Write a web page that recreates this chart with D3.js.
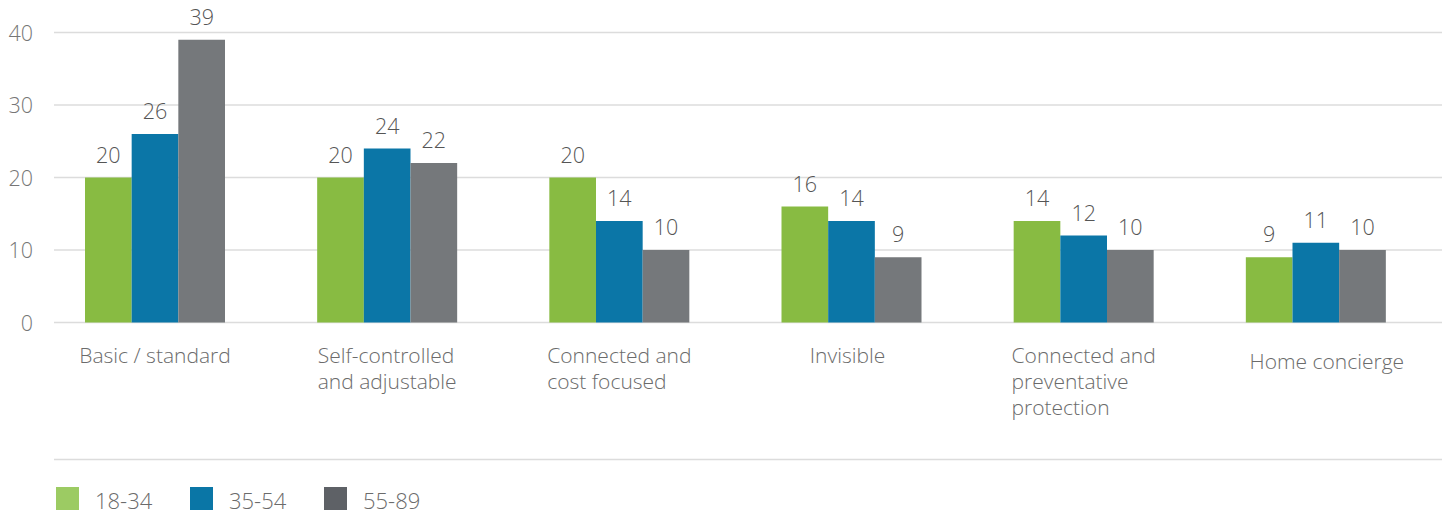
<!DOCTYPE html>
<html><head><meta charset="utf-8">
<script src="https://cdn.jsdelivr.net/npm/d3@7/dist/d3.min.js"></script>
<style>
html,body{margin:0;padding:0;background:#fff;}
svg{display:block;font-family:"Open Sans",sans-serif;}
</style></head>
<body>
<svg id="chart" width="1442" height="516"></svg>
<script>
const categories = [
  ["Basic / standard"],
  ["Self-controlled", "and adjustable"],
  ["Connected and", "cost focused"],
  ["Invisible"],
  ["Connected and", "preventative", "protection"],
  ["Home concierge"]
];
const seriesNames = ["18-34", "35-54", "55-89"];
const values18_34 = [20, 20, 20, 16, 14, 9];
const values35_54 = [26, 24, 14, 14, 12, 11];
const values55_89 = [39, 22, 10, 9, 10, 10];
const yTicks = [0, 10, 20, 30, 40];
const barColors = ["#88bb42", "#0b76a7", "#75787b"];
const legendColors = ["#9ccb63", "#0a76a6", "#5e6166"];

const series = [values18_34, values35_54, values55_89];
const svg = d3.select("#chart");

const x0 = d3.scaleBand().domain(d3.range(categories.length)).range([54, 1447]).padding(0);
const x1 = d3.scaleBand().domain(d3.range(series.length)).range([31, 171]).padding(0);
const y = d3.scaleLinear().domain([0, 40]).range([322.5, 32.5]);

// grid
const grid = svg.append("g");
grid.selectAll("line").data(yTicks).join("line")
  .attr("x1", 54).attr("x2", 1442)
  .attr("y1", d => y(d)).attr("y2", d => y(d))
  .attr("stroke", "#dcdcdc").attr("stroke-width", 1.5);

// y axis labels
const yAxis = d3.axisLeft(y).tickValues(yTicks).tickSize(0).tickPadding(0);
const ya = svg.append("g").attr("transform", "translate(33,0)").call(yAxis);
ya.select(".domain").remove();
ya.selectAll("text").attr("font-size", 21.5).attr("font-weight", 300)
  .attr("fill", "#767676").attr("font-family", "Open Sans").attr("dy", "0.36em");

// bars
const groups = svg.append("g").selectAll("g").data(categories).join("g")
  .attr("transform", (d, i) => `translate(${x0(i)},0)`);
groups.each(function(c, i) {
  const g = d3.select(this);
  series.forEach((s, j) => {
    g.append("rect")
      .attr("x", x1(j)).attr("width", x1.bandwidth())
      .attr("y", y(s[i])).attr("height", y(0) - y(s[i]))
      .attr("fill", barColors[j]);
    g.append("text")
      .attr("x", x1(j) + x1.bandwidth() / 2).attr("y", y(s[i]) - 15)
      .attr("text-anchor", "middle").attr("font-size", 21.5).attr("font-weight", 300)
      .attr("fill", "#555").text(s[i]);
  });
});

// category labels (block centred, lines left aligned)
groups.each(function(c, i) {
  const g = d3.select(this);
  const t = g.append("text").attr("font-size", 21).attr("font-weight", 300).attr("fill", "#6b6b6b");
  c.forEach((line, k) => {
    t.append("tspan").attr("x", 0).attr("y", 363 + k * 26).text(line);
  });
  const w = t.node().getBBox().width;
  const cx = x1(0) + (x1(series.length - 1) + x1.bandwidth() - x1(0)) / 2;
  const last = i === categories.length - 1;
  t.attr("transform", `translate(${cx - w / 2 + (last ? 11 : (i === 3 ? -4 : 0))},${last ? 6 : 0})`);
});

// legend separator
svg.append("line").attr("x1", 54).attr("x2", 1442).attr("y1", 459.5).attr("y2", 459.5)
  .attr("stroke", "#dcdcdc").attr("stroke-width", 1.5);

// legend
const legendX = d3.scalePoint().domain(seriesNames).range([56, 324]);
const lg = svg.append("g").selectAll("g").data(seriesNames).join("g")
  .attr("transform", d => `translate(${legendX(d)},487)`);
lg.append("rect").attr("width", 23).attr("height", 23).attr("fill", (d, i) => legendColors[i]);
lg.append("text").attr("x", 39).attr("y", 22).attr("font-size", 22).attr("font-weight", 300)
  .attr("fill", "#6b6b6b").text(d => d);
</script>
</body></html>
